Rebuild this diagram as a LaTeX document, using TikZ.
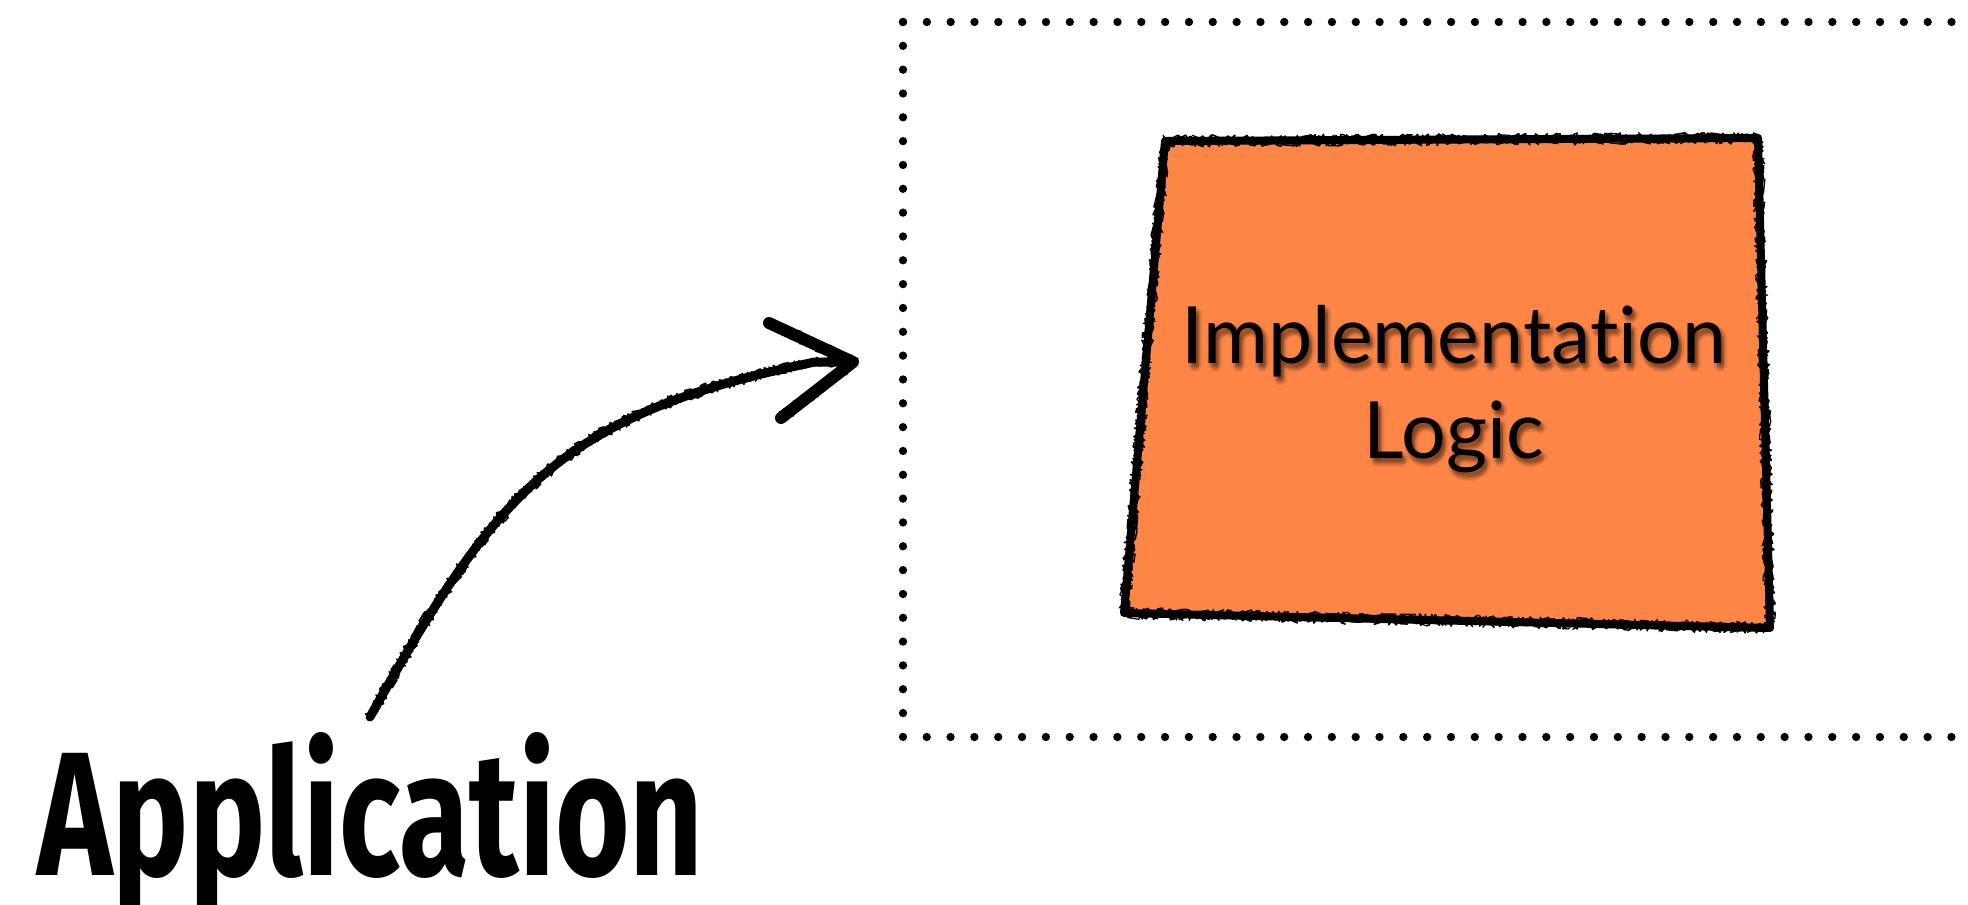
\documentclass[tikz,border=0pt]{standalone}
\usepackage{fontspec}
\usepackage{graphicx}
\setmainfont{Lato}[Ligatures=NoCommon]
\newfontfamily\handfont{Fira Sans}
\usetikzlibrary{decorations.pathmorphing}
\definecolor{boxorange}{HTML}{FD8647}
\tikzset{
  dotframe/.style={line width=8.3pt, line cap=round, dash pattern=on 0pt off 23.83pt},
  chalk/.style={draw=black, line width=#1, line cap=round, line join=round},
  chalkrough/.style={draw=black, line width=#1, line cap=round, line join=round,
    decorate, decoration={random steps, segment length=2.5pt, amplitude=6pt}},
  impltext/.style={font=\fontsize{79}{94}\selectfont, text=black, inner sep=0pt, anchor=base},
  implshadow/.style={impltext, opacity=0.035},
}
\begin{document}
\begin{tikzpicture}[x=1pt, y=-1pt]
\useasboundingbox (0,0) rectangle (1968,905);
\clip (0,0) rectangle (1968,905);

% dotted frame, open to the right
\draw[dotframe] (903,22) -- (2010,22);
\draw[dotframe] (903,22) -- (903,737) -- (2010,737);

% orange block with a chalky outline
\coordinate (b1) at (1165,141);
\coordinate (b2) at (1758,138);
\coordinate (b3) at (1770,628);
\coordinate (b4) at (1124,613);
\fill[boxorange] (b1) -- (b2) -- (b3) -- (b4) -- cycle;
\draw[chalk=8pt] (b1) -- (b2) -- (b3) -- (b4) -- cycle;
\foreach \w in {1.6pt,1.4pt,1.2pt}
  \draw[chalkrough=\w] (b1) -- (b2) -- (b3) -- (b4) -- cycle;

% label with a soft drop shadow
\foreach \dx/\dy in {1/2,3/2,5/2,0/4,2/4,4/4,6/4,1/6,3/6,5/6,2/8,4/8,3/3,3/5,3/7,-1/5,7/5,3/9,3/1} {
  \node[implshadow] at (1454+\dx,363.5+\dy) {Implementation};
  \node[implshadow] at (1454+\dx,458+\dy) {Logic};
}
\node[impltext] (impl1) at (1454,363.5) {Implementation};
\node[impltext] (impl2) at (1454,458) {Logic};

% curved chalk arrow
\coordinate (tail) at (370,717);
\coordinate (neck) at (815,362);
\coordinate (tip) at (853,362);
\coordinate (barbup) at (769,323);
\coordinate (barbdown) at (781,418);
\draw[chalk=9pt] (tail) .. controls (497,490) and (560,414) .. (neck) -- (tip);
\foreach \w in {1.8pt,1.5pt,1.2pt}
  \draw[chalkrough=\w] (tail) .. controls (497,490) and (560,414) .. (neck) -- (tip);
\draw[chalk=12pt] (barbup) -- (tip) -- (barbdown);
\foreach \w in {2pt,1.6pt}
  \draw[chalkrough=\w] (barbup) -- (tip) -- (barbdown);

% title
\node[anchor=base west, inner sep=0pt] (app) at (37,875)
  {\resizebox{666pt}{143pt}{\handfont\bfseries Application}};
\end{tikzpicture}
\end{document}
